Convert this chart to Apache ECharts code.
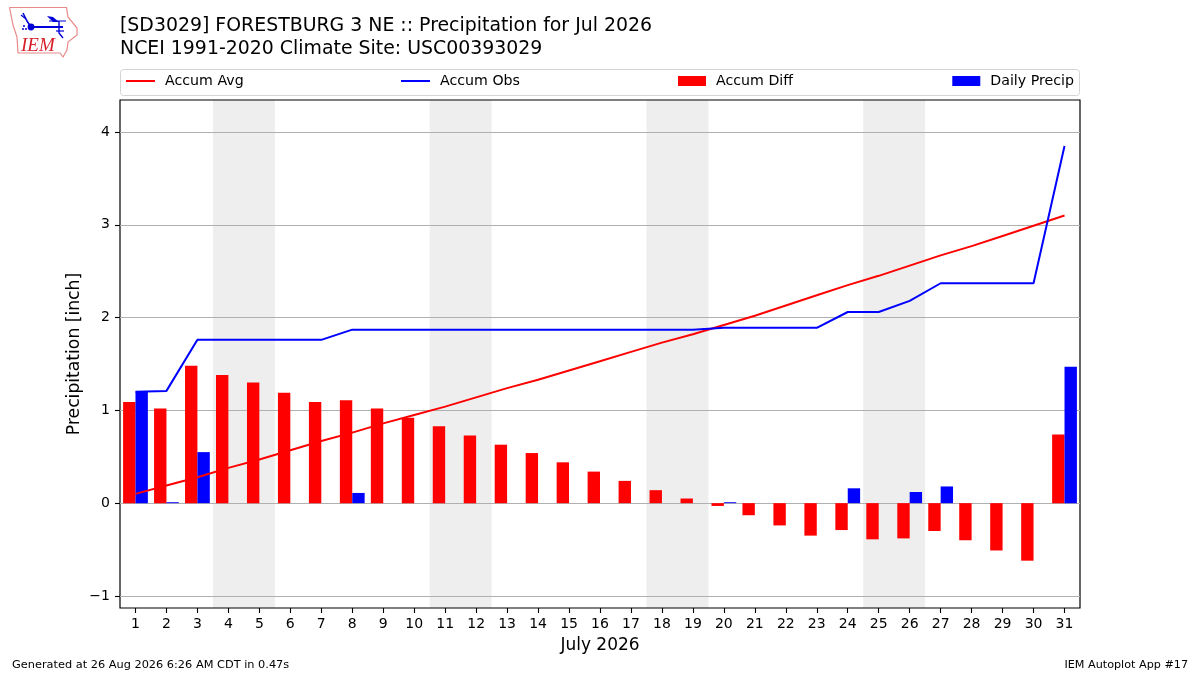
<!DOCTYPE html>
<html>
<head>
<meta charset="utf-8">
<style>html,body{margin:0;padding:0;background:#fff}#c{width:1200px;height:675px}</style>
<script src="https://cdn.jsdelivr.net/npm/echarts@6/dist/echarts.min.js"></script>
</head>
<body>
<div id="c"></div>
<script>
const days = [1,2,3,4,5,6,7,8,9,10,11,12,13,14,15,16,17,18,19,20,21,22,23,24,25,26,27,28,29,30,31];
const accumAvg = [0.10,0.19,0.28,0.38,0.47,0.57,0.67,0.76,0.86,0.95,1.04,1.14,1.24,1.33,1.43,1.53,1.63,1.73,1.82,1.92,2.02,2.13,2.24,2.35,2.45,2.56,2.67,2.77,2.88,2.99,3.10];
const accumObs = [1.20,1.21,1.76,1.76,1.76,1.76,1.76,1.87,1.87,1.87,1.87,1.87,1.87,1.87,1.87,1.87,1.87,1.87,1.87,1.89,1.89,1.89,1.89,2.06,2.06,2.18,2.37,2.37,2.37,2.37,3.85];
const accumDiff = [1.09,1.02,1.48,1.38,1.30,1.19,1.09,1.11,1.02,0.92,0.83,0.73,0.63,0.54,0.44,0.34,0.24,0.14,0.05,-0.03,-0.13,-0.24,-0.35,-0.29,-0.39,-0.38,-0.30,-0.40,-0.51,-0.62,0.74];
const dailyPrecip = [1.20,0.01,0.55,null,null,null,null,0.11,null,null,null,null,null,null,null,null,null,null,null,0.01,null,null,null,0.16,null,0.12,0.18,null,null,null,1.47];
const weekendSpans = [[4,5],[11,12],[18,19],[25,26]];
const yTicks = [-1,0,1,2,3,4];
const titleLines = ['[SD3029] FORESTBURG 3 NE :: Precipitation for Jul 2026','NCEI 1991-2020 Climate Site: USC00393029'];
const xName = 'July 2026';
const yName = 'Precipitation [inch]';
const footerLeft = 'Generated at 26 Aug 2026 6:26 AM CDT in 0.47s';
const footerRight = 'IEM Autoplot App #17';

const F = 'DejaVu Sans';
const yMin = -1.13, yMax = 4.345;
const chart = echarts.init(document.getElementById('c'), null, {renderer:'canvas'});
const lineLegend = {orient:'horizontal', top:74, icon:'rect', itemWidth:29, itemHeight:2, padding:0,
  textStyle:{fontFamily:F,fontSize:14.2,color:'#000',padding:[2,0,0,5]}};
const barLegend = Object.assign({},lineLegend,{itemWidth:28,itemHeight:10});
const blue='#0000d8';
chart.setOption({
  animation:false,
  backgroundColor:'#fff',
  title:[
    {text:titleLines.join('\n'),left:120,top:15,padding:0,textStyle:{fontFamily:F,fontSize:18.9,fontWeight:'normal',color:'#000',lineHeight:23}},
    {text:footerLeft,left:12,top:660,padding:0,textStyle:{fontFamily:F,fontSize:11.33,fontWeight:'normal',color:'#000'}},
    {text:footerRight,right:12,top:660,padding:0,textStyle:{fontFamily:F,fontSize:11.2,fontWeight:'normal',color:'#000'}}
  ],
  legend:[
    Object.assign({},lineLegend,{left:126,data:['Accum Avg']}),
    Object.assign({},lineLegend,{left:401,data:['Accum Obs']}),
    Object.assign({},barLegend,{left:678,data:['Accum Diff']}),
    Object.assign({},barLegend,{right:126,data:['Daily Precip']})
  ],
  grid:{left:120,right:120,top:100,bottom:67,show:true,borderColor:'#000',borderWidth:1.2,backgroundColor:'transparent'},
  xAxis:{type:'category',data:days,boundaryGap:true,name:xName,nameLocation:'middle',nameGap:29,
    nameTextStyle:{fontFamily:F,fontSize:17,color:'#000'},
    axisLine:{show:false,onZero:false},
    axisTick:{show:true,alignWithLabel:true,length:5,lineStyle:{color:'#000',width:1.1}},
    axisLabel:{interval:0,fontFamily:F,fontSize:14,color:'#000',margin:9},
    splitLine:{show:false}},
  yAxis:{type:'value',min:yMin,max:yMax,name:yName,nameLocation:'middle',nameGap:37,nameMoveOverlap:false,
    nameTextStyle:{fontFamily:F,fontSize:17.2,color:'#000'},
    axisLine:{show:false},
    axisTick:{show:true,length:5,lineStyle:{color:'#000',width:1.1},customValues:yTicks},
    axisLabel:{fontFamily:F,fontSize:14,color:'#000',margin:10,padding:[4,0,0,0],customValues:yTicks,formatter:v=>String(v).replace('-','\u2212')},
    splitLine:{show:true,lineStyle:{color:'#b0b0b0',width:1}}},
  series:[
    {type:'custom',name:'Weekend',silent:true,z:-1,data:weekendSpans.map(s=>[s[0]-1,s[1]-1]),encode:{x:[0,1]},
      clip:true,
      renderItem:(p,api)=>{
        const a=api.coord([api.value(0),0]), b=api.coord([api.value(1),0]), w=api.size([1,0])[0];
        return {type:'rect',shape:{x:a[0]-w/2,y:p.coordSys.y,width:b[0]-a[0]+w,height:p.coordSys.height},style:{fill:'#eeeeee'}};
      }},
    {type:'bar',name:'Accum Diff',data:accumDiff,barWidth:'40%',barGap:0,itemStyle:{color:'#ff0000'},z:2},
    {type:'bar',name:'Daily Precip',data:dailyPrecip,barWidth:'40%',barGap:0,itemStyle:{color:'#0000ff'},z:3},
    {type:'line',name:'Accum Avg',data:accumAvg,symbol:'none',lineStyle:{color:'#ff0000',width:2},itemStyle:{color:'#ff0000'},z:4},
    {type:'line',name:'Accum Obs',data:accumObs,symbol:'none',lineStyle:{color:'#0000ff',width:2},itemStyle:{color:'#0000ff'},z:5}
  ],
  graphic:[
    {type:'rect',z:-10,shape:{x:120.5,y:69.5,width:959,height:26,r:3},style:{fill:'#fff',stroke:'#d4d4d4',lineWidth:1}},
    {type:'polyline',z:10,shape:{points:[[9.5,7.5],[66.5,7.5],[68,17],[77,28],[77,35],[68,42],[67,50],[63,57],[60,53],[18,53],[17,37],[13,25],[9.5,7.5]]},style:{fill:'none',stroke:'#e88a8a',lineWidth:1.2}},
    {type:'polyline',z:10,shape:{points:[[31,27],[63,27]]},style:{stroke:blue,lineWidth:2,fill:'none'}},
    {type:'polyline',z:10,shape:{points:[[23,13],[27,21],[31,27]]},style:{stroke:blue,lineWidth:1.5,fill:'none'}},
    {type:'polyline',z:10,shape:{points:[[21,15],[26,19]]},style:{stroke:blue,lineWidth:1.2,fill:'none'}},
    {type:'circle',z:10,shape:{cx:31,cy:27,r:3.4},style:{fill:blue}},
    {type:'circle',z:10,shape:{cx:24,cy:26,r:1},style:{fill:blue}},
    {type:'circle',z:10,shape:{cx:23,cy:29,r:1},style:{fill:blue}},
    {type:'circle',z:10,shape:{cx:26,cy:29,r:1},style:{fill:blue}},
    {type:'polygon',z:10,shape:{points:[[47,16],[53,17],[59,22],[53,22]]},style:{fill:blue}},
    {type:'polyline',z:10,shape:{points:[[49,21],[66,21]]},style:{stroke:blue,lineWidth:1,fill:'none'}},
    {type:'polyline',z:10,shape:{points:[[59,21],[59,33],[63,38]]},style:{stroke:blue,lineWidth:1.4,fill:'none'}},
    {type:'polyline',z:10,shape:{points:[[56,31],[64,31]]},style:{stroke:blue,lineWidth:1.2,fill:'none'}},
    {type:'text',z:10,style:{x:21,y:36,text:'IEM',font:'italic 19px "Liberation Serif"',fill:'#d8202a'}}
  ]
});
</script>
</body>
</html>
